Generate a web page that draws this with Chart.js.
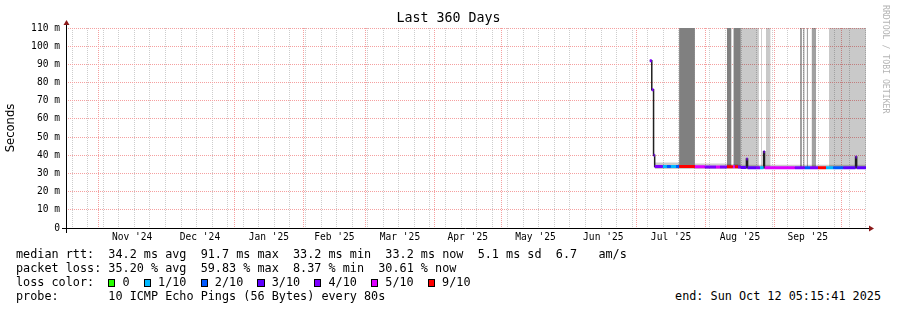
<!DOCTYPE html>
<html>
<head>
<meta charset="utf-8">
<script src="https://cdn.jsdelivr.net/npm/chart.js@4.4.1/dist/chart.umd.min.js"></script>
<style>
  body { margin: 0; background: #fff; }
  #wrap { position: relative; width: 897px; height: 310px; overflow: hidden; }
  #chart { position: absolute; left: 0; top: 0; }
  .leg { position: absolute; font: 11.8px 'DejaVu Sans Mono', monospace; color: #000; white-space: pre; line-height: 14px; }
  .box { display: inline-block; box-sizing: border-box; width: 1ch; height: 8px; border: 1px solid #000; vertical-align: -1px; }
  #mark { position: absolute; left: 881px; top: 5px; writing-mode: vertical-rl; font: 8.2px 'DejaVu Sans Mono', monospace; color: #b4b4b4; white-space: pre; }
</style>
</head>
<body>
<div id="wrap">
  <canvas id="chart" width="897" height="250"></canvas>
  <div id="mark">RRDTOOL / TOBI OETIKER</div>
  <div class="leg" id="stats" style="left:16px; top:247px;"></div>
  <div class="leg" id="end" style="right:16px; top:289px;"></div>
</div>
<script>
// time axis: days since start of the 360 day window (ends Sun Oct 12 05:15:41 2025)
const startMs = Date.UTC(2024, 9, 17, 5, 15, 41)
const dayMs = 86400000
const spanDays = 360

const monthLabels = ["Nov '24", "Dec '24", "Jan '25", "Feb '25", "Mar '25", "Apr '25",
                     "May '25", "Jun '25", "Jul '25", "Aug '25", "Sep '25"]
// month starts Nov 1 2024 .. Oct 1 2025
const monthStarts = []
for (let m = 10; m <= 21; m++) monthStarts.push((Date.UTC(2024, m, 1) - startMs) / dayMs)
const monthMids = monthLabels.map((l, i) => (monthStarts[i] + monthStarts[i + 1]) / 2)
// weekly minor grid, Sundays
const weekStarts = []
for (let d = (Date.UTC(2024, 9, 20) - startMs) / dayMs; d < spanDays; d += 7) weekStarts.push(d)

// y axis (ms)
const yMax = 110
const yTicks = [0, 10, 20, 30, 40, 50, 60, 70, 80, 90, 100, 110]

// loss colours
const lossLevels = [0, 1, 2, 3, 4, 5, 9]
const lossNames = ['0', '1/10', '2/10', '3/10', '4/10', '5/10', '9/10']
const lossColors = ['#26ff00', '#00b8ff', '#0059ff', '#5e00ff', '#7e00ff', '#dd00ff', '#ff0000']

// median rtt (ms), held from each day until the next one, with its loss (pings lost of 10)
const medDay  = [262.7, 263.6, 264.4, 264.9, 268.6, 270.4, 272.2, 274.5, 275.9, 283.0,
                 287.5, 292.5, 294.3, 297.4, 300.1, 301.0, 302.4, 303.7, 306.2, 306.7,
                 310.5, 312.3, 313.9, 314.4, 328.0, 332.5, 334.8, 338.4, 342.0, 345.2,
                 349.7, 355.3, 355.8, 360.0]
const medRtt  = [92, 76, 40, 33.8, 33.8, 33.8, 33.8, 33.8, 33.8, 33.7,
                 33.6, 33.6, 33.6, 33.7, 33.7, 33.7, 33.5, 33.3, 38, 33.2,
                 33.2, 33.2, 42, 33.2, 33.2, 33.2, 33.2, 33.2, 33.2, 33.2,
                 33.2, 39, 33.2, 33.2]
const medLoss = [4, 4, 4, 4, 1, 2, 1, 2, 9, 5,
                 4, 5, 4, 9, 5, 9, 4, 3, 4, 3,
                 4, 1, 4, 5, 4, 2, 4, 9, 1, 2,
                 3, 4, 3, 3]
// top of the smoke around the median (ms)
const smokeTop = [null, null, null, 36, 36, 36, 36, 36, 33.8, 35.5,
                  35.5, 35.5, 35.5, 35, 35, 35, 34.8, 34.8, 38, 34.8,
                  34.8, 34.8, 42, 34.8, 34.8, 34.8, 34.8, 34.8, 34.8, 34.8,
                  34.8, 39, 34.8, 34.8]
const smokeBase = 32.4

// periods where the smoke fills up to the top of the graph (day ranges)
const darkBands   = [[275.9, 283.0], [297.4, 299.5], [300.3, 303.7]]
const mediumBands = [[330.3, 331.2], [331.7, 332.4], [333.3, 333.9], [335.5, 337.5]]
const lightBands  = [[303.7, 311.8], [312.8, 313.2], [315.0, 317.1], [343.3, 360.0]]
const bandBase = 33.6

function bandPoints(bands) {
  const pts = []
  bands.forEach(([s, e]) => { pts.push({x: s, y: yMax}, {x: e, y: yMax}, {x: e, y: null}) })
  return pts
}

function bandSet(bands, color) {
  return { data: bandPoints(bands), backgroundColor: color, borderWidth: 0, pointRadius: 0,
           fill: {value: bandBase}, order: 10 }
}

const datasets = [
  bandSet(darkBands, 'rgb(128,128,128)'),
  bandSet(mediumBands, 'rgba(0,0,0,0.37)'),
  bandSet(lightBands, 'rgba(0,0,0,0.21)'),
  { data: medDay.map((d, i) => ({x: d, y: smokeTop[i]})), stepped: true, backgroundColor: 'rgba(0,0,0,0.2)',
    borderWidth: 0, pointRadius: 0, fill: {value: smokeBase}, order: 9 },
  { data: medDay.map((d, i) => ({x: d, y: medRtt[i]})), stepped: true, borderColor: '#202020',
    borderWidth: 1.5, pointRadius: 0, fill: false, order: 8 }
]

// one coloured median band for each loss level, like smokeping does
lossLevels.forEach((lvl, k) => {
  const pts = []
  for (let i = 0; i < medDay.length - 1; i++) {
    if (medLoss[i] !== lvl) continue
    pts.push({x: medDay[i], y: medRtt[i]}, {x: medDay[i + 1], y: medRtt[i]}, {x: medDay[i + 1], y: null})
  }
  datasets.push({ data: pts, borderColor: lossColors[k], borderWidth: 3, pointRadius: 0,
                  fill: false, borderCapStyle: 'butt', order: 1 })
})

const majorGrid = 'rgb(245,160,160)'
const minorGrid = 'rgb(205,205,205)'
const mono = 'DejaVu Sans Mono'

// draws the axis lines with their arrow heads
const axisArrows = {
  id: 'axisArrows',
  afterDraw(chart) {
    const { ctx, chartArea: a } = chart
    ctx.save()
    ctx.strokeStyle = '#000'
    ctx.lineWidth = 1
    ctx.beginPath()
    ctx.moveTo(a.left - 4, a.bottom + 0.5); ctx.lineTo(a.right + 3, a.bottom + 0.5)
    ctx.moveTo(a.left + 0.5, a.bottom + 5); ctx.lineTo(a.left + 0.5, a.top - 3)
    ctx.stroke()
    ctx.fillStyle = '#8b1a1a'
    ctx.beginPath()
    ctx.moveTo(a.right + 3, a.bottom - 2.5); ctx.lineTo(a.right + 8, a.bottom + 0.5); ctx.lineTo(a.right + 3, a.bottom + 3.5)
    ctx.fill()
    ctx.beginPath()
    ctx.moveTo(a.left - 2.5, a.top - 3); ctx.lineTo(a.left + 0.5, a.top - 8); ctx.lineTo(a.left + 3.5, a.top - 3)
    ctx.fill()
    ctx.restore()
  }
}

const fixedTicks = (vals) => (scale) => { scale.ticks = vals.map(v => ({ value: v })) }

new Chart(document.getElementById('chart'), {
  type: 'line',
  data: { datasets },
  plugins: [axisArrows],
  options: {
    responsive: false,
    animation: false,
    layout: { padding: 0 },
    plugins: {
      legend: { display: false },
      tooltip: { enabled: false },
      title: { display: true, text: 'Last 360 Days', color: '#000',
               font: { family: mono, size: 13.3, weight: 'normal' }, padding: { top: 11, bottom: 1.04 } }
    },
    scales: {
      x: {
        type: 'linear', position: 'bottom', min: 0, max: spanDays,
        afterBuildTicks: fixedTicks(monthStarts),
        afterFit: (s) => { s.height = 0 },
        ticks: { display: false },
        grid: { color: majorGrid, drawTicks: false },
        border: { display: false, dash: [1, 1] }
      },
      xw: {
        type: 'linear', position: 'bottom', min: 0, max: spanDays,
        afterBuildTicks: fixedTicks(weekStarts),
        afterFit: (s) => { s.height = 0 },
        ticks: { display: false },
        grid: { color: minorGrid, drawTicks: false },
        border: { display: false, dash: [1, 1] }
      },
      xl: {
        type: 'linear', position: 'bottom', min: 0, max: spanDays,
        afterBuildTicks: fixedTicks(monthMids),
        afterFit: (s) => { s.height = 22 },
        ticks: { autoSkip: false, maxRotation: 0, padding: 4, color: '#000',
                 font: { family: mono, size: 9.6 },
                 callback: (v, i) => monthLabels[i] },
        grid: { display: false, drawTicks: false },
        border: { display: false }
      },
      y: {
        type: 'linear', min: 0, max: yMax,
        afterBuildTicks: (s) => {
          const t = []
          for (let v = 0; v <= yMax; v += 5) t.push({ value: v })
          s.ticks = t
        },
        afterFit: (s) => { s.width = 66 },
        ticks: { padding: 6, color: '#000', font: { family: mono, size: 9.6 },
                 callback: (v) => yTicks.includes(v) ? (v === 0 ? '0' : v + ' m') : '' },
        grid: { color: (c) => c.tick && yTicks.includes(c.tick.value) ? majorGrid : minorGrid, drawTicks: false },
        border: { display: false, dash: [1, 1] },
        title: { display: true, text: 'Seconds', color: '#000',
                 font: { family: 'DejaVu Sans', size: 11.6 }, padding: { top: 4, bottom: 0 } }
      },
      // empty right margin, so the title centres on the whole image
      yr: {
        type: 'linear', position: 'right', min: 0, max: yMax,
        afterFit: (s) => { s.width = 31 },
        ticks: { display: false },
        grid: { display: false, drawTicks: false },
        border: { display: false }
      }
    }
  }
})

// legend text under the graph
const statLines = [
  'median rtt:  34.2 ms avg  91.7 ms max  33.2 ms min  33.2 ms now  5.1 ms sd  6.7   am/s',
  'packet loss: 35.20 % avg  59.83 % max  8.37 % min  30.61 % now'
]
let html = statLines.join('\n') + '\nloss color:  '
html += lossNames.map((n, k) => '<span class="box" style="background:' + lossColors[k] + '"></span> ' + n).join('  ')
html += '\nprobe:       10 ICMP Echo Pings (56 Bytes) every 80s'
document.getElementById('stats').innerHTML = html
document.getElementById('end').textContent = 'end: Sun Oct 12 05:15:41 2025'
</script>
</body>
</html>
